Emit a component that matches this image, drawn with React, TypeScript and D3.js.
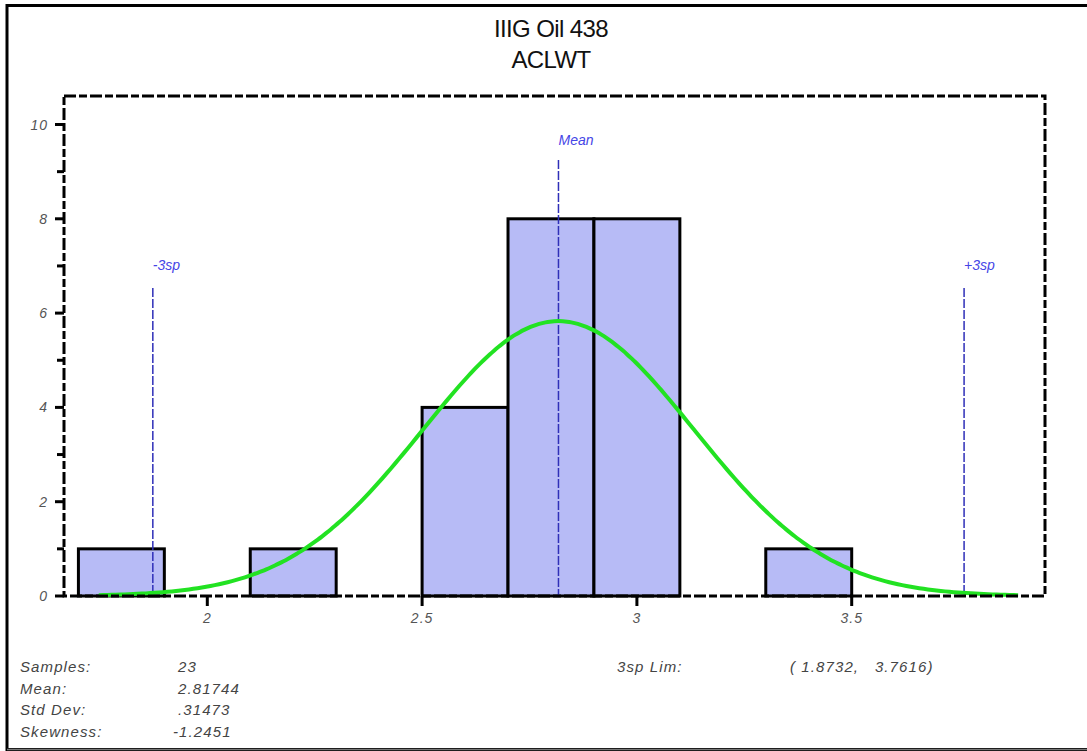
import React from "react";
import * as d3 from "d3";

// histogram bins (value ranges) and counts
const binLo = [1.7, 2.1, 2.5, 2.7, 2.9, 3.3];
const binHi = [1.9, 2.3, 2.7, 2.9, 3.1, 3.5];
const counts = [1, 1, 4, 8, 8, 1];
const binWidth = 0.2;

// summary statistics shown under the plot
const sampleCount = 23;
const meanValue = 2.81744;
const stdDev = 0.31473;
const limLo = 1.8732;
const limHi = 3.7616;
const statLabels = ["Samples:", "Mean:", "Std Dev:", "Skewness:"];
const statValues = ["23", "2.81744", ".31473", "-1.2451"];

const xTicks = [2, 2.5, 3, 3.5];
const yMajor = [0, 2, 4, 6, 8, 10];
const yMinor = [1, 3, 5, 7, 9];

const titleLines = ["IIIG Oil 438", "ACLWT"];

const W = 1087;
const H = 751;
const plot = { left: 64, right: 1045, top: 96, bottom: 596 };

export default function App() {
  const x = d3
    .scaleLinear()
    .domain([2, 3.5])
    .range([207.3, 851.7]);
  const y = d3.scaleLinear().domain([0, 10]).range([plot.bottom, 124.5]);

  // fitted normal curve scaled to counts
  const pdf = (v: number) =>
    (sampleCount * binWidth) /
    (stdDev * Math.sqrt(2 * Math.PI)) *
    Math.exp(-0.5 * ((v - meanValue) / stdDev) ** 2);
  const xs = d3.range(meanValue - 3.4 * stdDev, meanValue + 3.4 * stdDev, 0.01);
  const curve = d3
    .line<number>()
    .x((v) => x(v))
    .y((v) => y(pdf(v)))
    .curve(d3.curveBasis)(xs);

  const tickFont = {
    fontFamily: "Liberation Sans, Arial, sans-serif",
    fontStyle: "italic",
    fontSize: 14,
    letterSpacing: 1,
    fill: "#555",
  } as const;
  const statFont = {
    fontFamily: "Liberation Sans, Arial, sans-serif",
    fontStyle: "italic",
    fontSize: 15,
    letterSpacing: 1.1,
    fill: "#444",
  } as const;
  const blueLabel = {
    fontFamily: "Liberation Sans, Arial, sans-serif",
    fontStyle: "italic",
    fontSize: 14,
    fill: "#4545e6",
  } as const;

  const refLines = [
    { v: meanValue, label: "Mean", top: 160, ly: 145 },
    { v: limLo, label: "-3sp", top: 288, ly: 270 },
    { v: limHi, label: "+3sp", top: 288, ly: 270 },
  ];

  return (
    <div style={{ position: "absolute", left: 0, top: 0 }}>
      <svg width={W} height={H} style={{ display: "block", background: "#fff" }}>
        {/* outer frame */}
        <rect x={7} y={5.5} width={1082} height={744} fill="none" stroke="#000" strokeWidth={3} />
        <line x1={7} x2={1087} y1={749.5} y2={749.5} stroke="#777" strokeWidth={1.5} />

        {/* title */}
        {titleLines.map((t, i) => (
          <text
            key={t}
            x={551}
            y={37 + i * 31}
            textAnchor="middle"
            fontFamily="Liberation Sans, Arial, sans-serif"
            fontSize={24}
            letterSpacing={-0.6}
            fill="#111"
          >
            {t}
          </text>
        ))}

        {/* bars */}
        {counts.map((c, i) => (
          <rect
            key={i}
            x={x(binLo[i])}
            y={y(c)}
            width={x(binHi[i]) - x(binLo[i])}
            height={y(0) - y(c)}
            fill="#b7bbf6"
            stroke="#000"
            strokeWidth={3}
          />
        ))}

        {/* reference lines */}
        {refLines.map((r) => (
          <g key={r.label}>
            <line
              x1={x(r.v)}
              x2={x(r.v)}
              y1={r.top}
              y2={plot.bottom}
              stroke="#2f2fb8"
              strokeWidth={1.5}
              strokeDasharray="9 2"
            />
            <text x={x(r.v)} y={r.ly} {...blueLabel}>
              {r.label}
            </text>
          </g>
        ))}

        {/* normal fit */}
        <path d={curve ?? ""} fill="none" stroke="#22e222" strokeWidth={4} />

        {/* dashed plot frame */}
        <rect
          x={plot.left}
          y={plot.top}
          width={plot.right - plot.left}
          height={plot.bottom - plot.top}
          fill="none"
          stroke="#000"
          strokeWidth={3}
          strokeDasharray="12 3 8 3"
        />

        {/* y axis ticks */}
        {yMajor.map((v) => (
          <g key={"ym" + v}>
            <line x1={plot.left - 9} x2={plot.left} y1={y(v)} y2={y(v)} stroke="#000" strokeWidth={3} />
            <text x={plot.left - 16} y={y(v) + 5} textAnchor="end" {...tickFont}>
              {v}
            </text>
          </g>
        ))}
        {yMinor.map((v) => (
          <line key={"yn" + v} x1={plot.left - 7} x2={plot.left} y1={y(v)} y2={y(v)} stroke="#000" strokeWidth={3} />
        ))}

        {/* x axis ticks */}
        {xTicks.map((v) => (
          <g key={"x" + v}>
            <line x1={x(v)} x2={x(v)} y1={plot.bottom} y2={plot.bottom + 10} stroke="#000" strokeWidth={3} />
            <text x={x(v)} y={plot.bottom + 27} textAnchor="middle" {...tickFont}>
              {v}
            </text>
          </g>
        ))}

        {/* stats block */}
        {statLabels.map((s, i) => (
          <g key={s}>
            <text x={20} y={672 + i * 21.5} {...statFont}>
              {s}
            </text>
            <text x={statValues[i].startsWith("-") ? 173 : 178} y={672 + i * 21.5} {...statFont}>
              {statValues[i]}
            </text>
          </g>
        ))}
        <text x={617} y={672} {...statFont}>
          3sp Lim:
        </text>
        <text x={790} y={672} {...statFont} style={{ whiteSpace: "pre" }}>
          {`( ${limLo},   ${limHi})`}
        </text>
      </svg>
    </div>
  );
}
